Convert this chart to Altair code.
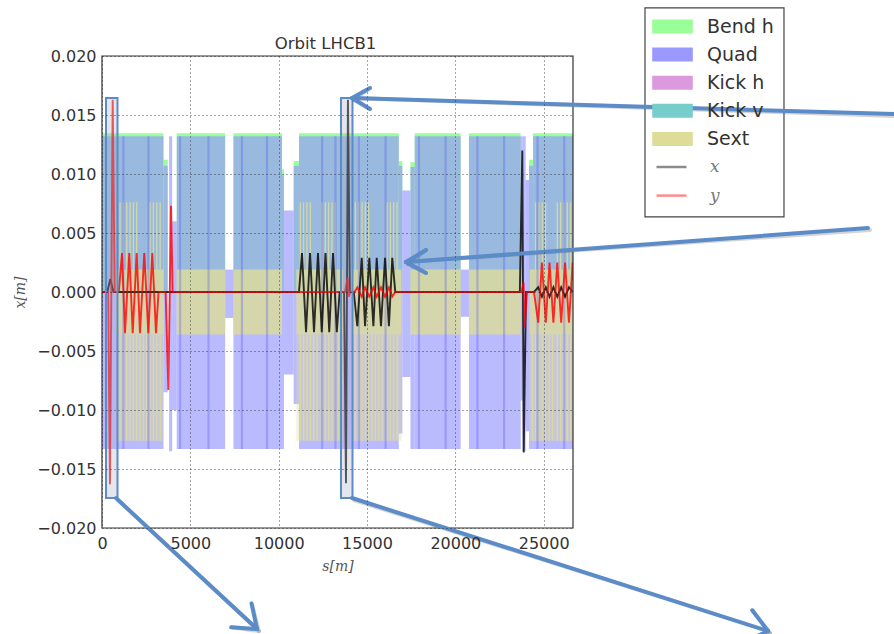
import altair as alt
import pandas as pd

S_MAX = 26659

# ---------------- lattice elements: [s_start, s_end, low, high] ----------------
bend_h = [
    [0, 3480, 0, 0.01345], [3480, 3720, 0, 0.0112], [4230, 6970, 0, 0.01345],
    [7440, 10190, 0, 0.01345], [10190, 10300, 0, 0.0104], [10850, 11150, 0, 0.0111],
    [11150, 16800, 0, 0.01345], [16800, 17000, 0, 0.0111], [17460, 17700, 0, 0.0110],
    [17700, 20300, 0, 0.01345], [20770, 23700, 0, 0.01345], [24170, 24400, 0, 0.0112],
    [24400, 26659, 0, 0.01345],
]
quad = [
    [0, 3480, -0.0133, 0.0132], [3480, 3720, -0.0085, 0.0107], [3800, 3970, -0.0135, 0.0132],
    [3970, 4230, -0.0100, 0.0060], [4230, 6970, -0.0133, 0.0132], [6970, 7440, -0.0022, 0.0019],
    [7440, 10190, -0.0133, 0.0132], [10190, 10300, -0.0133, 0.0099], [10300, 10850, -0.0070, 0.0069],
    [10850, 11150, -0.0095, 0.0107], [11150, 16800, -0.0133, 0.0132], [16800, 17000, -0.0120, 0.0107],
    [17000, 17460, -0.0072, 0.0086], [17460, 17700, -0.0133, 0.0106], [17700, 20300, -0.0133, 0.0132],
    [20300, 20770, -0.0021, 0.0019], [20770, 23700, -0.0133, 0.0132], [23700, 23800, -0.0092, 0.0132],
    [23800, 23980, -0.0135, 0.0132], [23980, 24170, -0.0118, 0.0095], [24170, 24400, -0.0133, 0.0107],
    [24400, 26659, -0.0133, 0.0132],
]
quad_dense_s = [1210, 2630, 4420, 6030, 7920, 9340, 12460, 13210, 14540, 16050,
                17940, 19450, 21250, 22760, 24650, 26160]
quad_dense_range = [-0.0133, 0.0132]

sext_band = [
    [800, 3480, -0.0036, 0.0019], [4230, 6970, -0.0036, 0.0019], [7440, 10190, -0.0036, 0.0019],
    [11000, 13650, -0.0036, 0.0019], [14100, 16950, -0.0036, 0.0019], [17460, 20300, -0.0036, 0.0019],
    [20770, 23700, -0.0036, 0.0019], [24200, 26659, -0.0036, 0.0019],
]
sext_tint = [
    [850, 3480, -0.0126, -0.0036], [11000, 13650, -0.0126, -0.0036],
    [14100, 16950, -0.0126, -0.0036], [24200, 26659, -0.0126, -0.0036],
]
sext_upper_s = [1020, 1210, 1400, 1590, 1780, 1965, 2720, 2910, 3100, 3290,
                11225, 11410, 11600, 11790, 12450, 12640, 12825, 13015, 13200,
                14340, 14525, 14720, 14905, 15090, 16135, 16320, 16510, 16700,
                24540, 24725, 24920, 25105, 25770, 25960, 26145, 26335, 26520]
sext_upper_range = [0.0019, 0.0076]
sext_lower_s = [900, 1020, 1210, 1400, 1590, 1780, 1965, 2155, 2345, 2530, 2720, 2910, 3100, 3290,
                11225, 11410, 11600, 11790, 11980, 12170, 12450, 12640, 12825, 13015, 13200, 13390,
                14340, 14525, 14720, 14905, 15090, 15280, 15470, 15660, 15850, 16135, 16320, 16510, 16700,
                24350, 24540, 24725, 24920, 25105, 25300, 25490, 25770, 25960, 26145, 26335, 26520]
sext_lower_range = [-0.0126, -0.0036]

# ---------------- orbits ----------------
orbit_x_s = [0, 300, 470, 650,
             11150, 11320, 11548, 11775, 12000, 12226, 12438, 12650, 12862, 13075, 13290, 13450,
             13700, 13810, 13920, 14030,
             14250, 14450, 14700, 14890, 15130, 15360, 15550, 15790, 16020, 16240, 16430, 16600,
             23650, 23790, 23870, 24000,
             24450, 24690, 24900, 25120, 25330, 25550, 25770, 25990, 26210, 26430, 26659]
orbit_x_v = [0, 0, 0.0011, 0,
             0, 0.0033, -0.0034, 0.0033, -0.0034, 0.0033, -0.0034, 0.0033, -0.0034, 0.0033, -0.0034, 0,
             0, -0.0162, 0.0163, 0,
             0, -0.0029, 0.0029, -0.0029, 0.0029, -0.0029, 0.0029, -0.0029, 0.0029, -0.0029, 0.0029, 0,
             0, 0.0120, -0.0136, 0,
             0, 0.0004, -0.0004, 0.0004, -0.0004, 0.0004, -0.0004, 0.0004, -0.0004, 0.0004, 0]
orbit_y_s = [0, 350, 450, 605, 720,
             950, 1132, 1302, 1545, 1738, 1964, 2150, 2394, 2621, 2847, 3056, 3200,
             3600, 3755, 3905, 4000,
             13750, 13900, 13970, 14050,
             14300, 14450, 14700, 14890, 15130, 15360, 15550, 15790, 16020, 16240, 16430, 16600,
             23750, 23860, 23920, 24050,
             24450, 24690, 24900, 25120, 25330, 25550, 25770, 25990, 26210, 26430, 26640, 26659]
orbit_y_v = [0, 0, -0.0163, 0.0163, 0,
             0, 0.0033, -0.0035, 0.0033, -0.0035, 0.0033, -0.0035, 0.0033, -0.0035, 0.0033, -0.0035, 0,
             0, -0.0083, 0.0073, 0,
             0, 0.0012, -0.0004, 0,
             0, 0.0004, -0.0004, 0.0004, -0.0004, 0.0004, -0.0004, 0.0004, -0.0004, 0.0004, -0.0004, 0,
             0, 0.0008, -0.0030, 0,
             0, -0.0026, 0.0025, -0.0026, 0.0025, -0.0026, 0.0025, -0.0026, 0.0025, -0.0026, 0.0025, 0.0010]

kinds = ["Bend h", "Quad", "Kick h", "Kick v", "Sext"]
kind_colors = ["#99ff99", "#9999ff", "#dd99dd", "#77cccc", "#dddd99"]
planes = ["x", "y"]
plane_colors = ["#000000", "#ff0000"]
title_text = "Orbit LHCB1"

# ---------------- annotations (in data units) ----------------
zoom_boxes = [[226, 877, -0.01746, 0.01644], [13527, 14178, -0.01746, 0.01644]]
arrow_shafts = [
    [44827, 0.01508, 14150, 0.01644], [43356, 0.00542, 17206, 0.00254],
    [792, -0.01746, 8773, -0.02856], [14150, -0.01746, 37696, -0.02873],
]
arrow_heads = [
    [14150, 0.01644, 15169, 0.01729], [14150, 0.01644, 15169, 0.01551],
    [17206, 0.00254, 18338, 0.00356], [17206, 0.00254, 18338, 0.00161],
    [8773, -0.02856, 8467, -0.02640], [8773, -0.02856, 7313, -0.02842],
    [37696, -0.02873, 36807, -0.02697], [37696, -0.02873, 36292, -0.02972],
]
legend_frame = [[30734, 38601, 0.00636, 0.02407]]

# ---------------- tables ----------------
def band_df(rows, kind):
    return pd.DataFrame([{"s": a, "s2": b, "lo": c, "hi": d, "kind": kind} for a, b, c, d in rows])

def line_df(svals, rng, kind):
    return pd.DataFrame([{"s": s, "lo": rng[0], "hi": rng[1], "kind": kind} for s in svals])

orbit_df = pd.concat([
    pd.DataFrame({"s": orbit_x_s, "v": orbit_x_v, "plane": "x"}),
    pd.DataFrame({"s": orbit_y_s, "v": orbit_y_v, "plane": "y"}),
])

XSCALE = alt.Scale(domain=[0, S_MAX], nice=False, zero=False)
YSCALE = alt.Scale(domain=[-0.02, 0.02], nice=False, zero=False)
XAXIS = alt.Axis(values=[0, 5000, 10000, 15000, 20000, 25000], format="d",
                 labelFontSize=16, labelFont="DejaVu Sans", labelColor="#333", labelPadding=7,
                 tickSize=0, domain=False, grid=True, gridDash=[1, 3], gridColor="#222",
                 gridOpacity=0.8, titleFont="DejaVu Serif", titleFontStyle="italic",
                 titleFontWeight="normal", titleFontSize=14, titleColor="#555",
                 titlePadding=8, zindex=1, labelFlush=False)
YAXIS = alt.Axis(values=[-0.02, -0.015, -0.01, -0.005, 0, 0.005, 0.01, 0.015, 0.02], format=".3f",
                 labelFontSize=16, labelFont="DejaVu Sans", labelColor="#333", labelPadding=6,
                 tickSize=0, domain=False, grid=True, gridDash=[1, 3], gridColor="#222",
                 gridOpacity=0.8, titleFont="DejaVu Serif", titleFontStyle="italic",
                 titleFontWeight="normal", titleFontSize=14, titleColor="#555",
                 titlePadding=9, zindex=1, labelFlush=False)

def X(f="s"):
    return alt.X(f"{f}:Q", scale=XSCALE, axis=XAXIS, title="s[m]")

def Y(f="lo"):
    return alt.Y(f"{f}:Q", scale=YSCALE, axis=YAXIS, title="x[m]")

COLOR = alt.Color("kind:N", scale=alt.Scale(domain=kinds, range=kind_colors),
                  legend=alt.Legend(orient="none", legendX=561, legendY=-39, title=None,
                                    symbolType="M-2.9,-1L2.9,-1L2.9,1L-2.9,1Z", symbolSize=196,
                                    symbolOpacity=1, symbolStrokeWidth=0,
                                    labelFont="DejaVu Sans", labelFontSize=19, labelColor="#333",
                                    labelOffset=25, rowPadding=8.1, padding=0, labelLimit=300))
STROKE = alt.Stroke("plane:N", scale=alt.Scale(domain=planes, range=plane_colors),
                    legend=alt.Legend(orient="none", legendX=561, legendY=102.5, title=None,
                                      symbolType="M-3,0L3,0", symbolSize=100, symbolStrokeWidth=2.5,
                                      symbolOpacity=0.45, labelFont="DejaVu Serif",
                                      labelFontStyle="italic", labelFontSize=17, labelColor="#777",
                                      labelOffset=30, rowPadding=10.6, padding=0))

def rects(df, opacity):
    return alt.Chart(df).mark_rect(opacity=opacity, clip=True).encode(
        x=X("s"), x2="s2", y=Y("lo"), y2="hi", color=COLOR)

def rules(df, opacity, width, color=None):
    enc = dict(x=X("s"), y=Y("lo"), y2="hi")
    if color is None:
        return alt.Chart(df).mark_rule(opacity=opacity, strokeWidth=width, clip=True).encode(color=COLOR, **enc)
    return alt.Chart(df).mark_rule(opacity=opacity, strokeWidth=width, clip=True, color=color).encode(**enc)

bend_layer = rects(band_df(bend_h, "Bend h"), 1.0)
quad_layer = rects(band_df(quad, "Quad"), 0.68)
tint_layer = rects(band_df(sext_tint, "Sext"), 0.38)
sext_layer = rects(band_df(sext_band, "Sext"), 0.8)
upper_lines = rules(line_df(sext_upper_s, sext_upper_range, "Sext"), 0.85, 1.3)
lower_lines = rules(line_df(sext_lower_s, sext_lower_range, "Sext"), 0.8, 1.3)
dense_layer = rules(line_df(quad_dense_s, quad_dense_range, "Quad"), 0.3, 2.2, color="#5050f0")

orbit_layer = alt.Chart(orbit_df).mark_line(strokeWidth=1.9, opacity=0.8, clip=True).encode(
    x=X("s"), y=Y("v"), stroke=STROKE, order="s:Q")

box_df = pd.DataFrame(zoom_boxes, columns=["s", "s2", "lo", "hi"])
box_layer = alt.Chart(box_df).mark_rect(fill="#a8acc0", fillOpacity=0.3, stroke="#5b8cc8",
                                        strokeWidth=2, clip=False).encode(
    x=X("s"), x2="s2", y=Y("lo"), y2="hi")

frame_layer = alt.Chart(pd.DataFrame({"a": [0]})).mark_rect(
    filled=False, stroke="#333", strokeWidth=1.2).encode(
    x=alt.value(0), x2=alt.value(471), y=alt.value(0), y2=alt.value(472))

title_layer = alt.Chart(pd.DataFrame({"t": [title_text]})).mark_text(
    font="DejaVu Sans", fontSize=16.5, color="#333", align="center", baseline="middle").encode(
    text="t:N", x=alt.value(223.5), y=alt.value(-12))

lf_df = pd.DataFrame(legend_frame, columns=["s", "s2", "lo", "hi"])
legend_frame_layer = alt.Chart(lf_df).mark_rect(filled=False, stroke="#444", strokeWidth=1.2,
                                                clip=False).encode(
    x=X("s"), x2="s2", y=Y("lo"), y2="hi")

shaft_df = pd.DataFrame(arrow_shafts, columns=["s", "lo", "s2", "hi"])
head_df = pd.DataFrame(arrow_heads, columns=["s", "lo", "s2", "hi"])

def arrows(df, color, width, opacity=1.0, dx=0, dy=0):
    return alt.Chart(df).mark_rule(color=color, strokeWidth=width, strokeCap="round",
                                   opacity=opacity, clip=False, xOffset=dx, yOffset=dy).encode(
        x=X("s"), x2="s2", y=Y("lo"), y2="hi")

chart = alt.layer(
    bend_layer, quad_layer, tint_layer, sext_layer, upper_lines, lower_lines, dense_layer,
    orbit_layer, box_layer, frame_layer, title_layer, legend_frame_layer,
    arrows(shaft_df, "#555", 4, 0.25, 2, 2), arrows(head_df, "#555", 4, 0.25, 2, 2),
    arrows(shaft_df, "#5b8cc8", 4), arrows(head_df, "#5b8cc8", 4),
).properties(
    width=471, height=472,
    padding={"left": 102, "top": 56, "right": 321, "bottom": 106},
    autosize=alt.AutoSizeParams(type="none"),
).configure_view(stroke=None).resolve_scale(color="shared")

chart.save("out.html", embed_options={"renderer": "svg", "actions": False})
